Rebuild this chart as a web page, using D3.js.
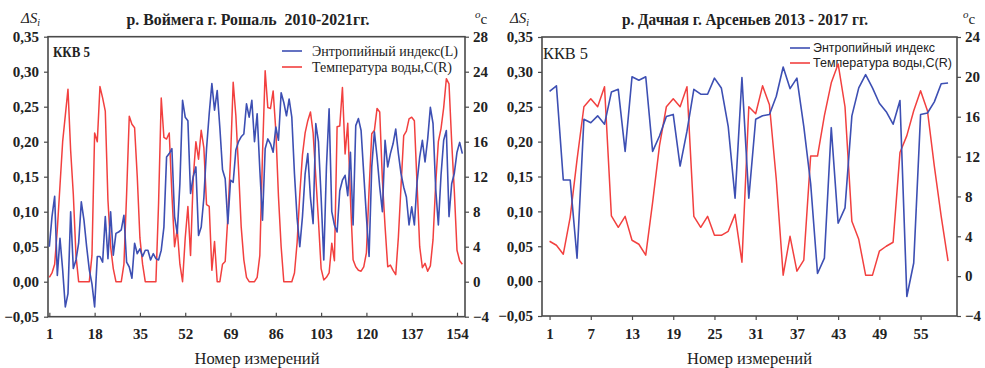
<!DOCTYPE html>
<html>
<head>
<meta charset="utf-8">
<script src="https://cdn.jsdelivr.net/npm/d3@7"></script>
<style>
  html, body { margin: 0; padding: 0; background: #fff; }
  svg { display: block; }
  text { fill: #222; white-space: pre; }
</style>
</head>
<body>
<svg id="chart" width="985" height="368"></svg>
<script>
// ---- Panel A: р. Воймега, 2010-2021 ----
const voimegaEntropy = [
  0.050, 0.093, 0.122, 0.009, 0.062, 0.017, -0.036, -0.017, 0.100, 0.019,
  0.031, 0.055, 0.114, 0.088, 0.050, 0.017, -0.003, -0.036, 0.036, 0.036,
  0.028, 0.093, 0.033, 0.100, 0.038, 0.069, 0.071, 0.074, 0.095, 0.028,
  0.021, 0.005, 0.055, 0.040, 0.047, 0.036, 0.045, 0.045, 0.031, 0.040,
  0.033, 0.031, 0.045, 0.078, 0.178, 0.183, 0.190, 0.093, 0.069, 0.140,
  0.259, 0.235, 0.230, 0.126, 0.150, 0.164, 0.066, 0.078, 0.120, 0.190,
  0.240, 0.283, 0.245, 0.273, 0.220, 0.160, 0.147, 0.083, 0.145, 0.142,
  0.188, 0.200, 0.207, 0.211, 0.254, 0.235, 0.259, 0.200, 0.240, 0.160,
  0.088, 0.190, 0.204, 0.197, 0.185, 0.221, 0.202, 0.270, 0.256, 0.237,
  0.261, 0.235, 0.154, 0.090, 0.050, 0.093, 0.154, 0.183, 0.120, 0.083,
  0.226, 0.200, 0.121, 0.031, 0.164, 0.247, 0.100, 0.081, 0.071, 0.130,
  0.145, 0.152, 0.123, 0.185, 0.081, 0.223, 0.233, 0.216, 0.154, 0.093,
  0.036, 0.164, 0.214, 0.178, 0.135, 0.100, 0.202, 0.164, 0.183, 0.197,
  0.218, 0.183, 0.154, 0.135, 0.121, 0.081, 0.107, 0.081, 0.142, 0.178,
  0.202, 0.171, 0.204, 0.249, 0.226, 0.133, 0.081, 0.152, 0.202, 0.216,
  0.093, 0.140, 0.155, 0.185, 0.199, 0.183
];
const voimegaTemp = [
  0.5, 1, 2, 6, 11, 16, 19, 22, 15, 10,
  3, 0, 0, 0, 0, 0, 3, 17, 16, 22.3,
  21, 19.5, 9.3, 4, 1.5, 0, 0, 0, 2, 10,
  18.9, 18, 17.6, 12, 5, 2, 0, 0, 0, 0,
  0, 9, 21, 16.5, 16.3, 17, 10, 4, 6, 2,
  0, 5, 8.6, 3, 11.8, 16, 14, 17.3, 15.3, 8.8,
  8.6, 1.3, 4.6, 0, 0, 2, 2.3, 7.4, 14, 22.8,
  19, 13, 6.3, 2.5, 0.5, 0, 0, 0, 0.5, 3,
  14.5, 24.1, 19.9, 19.8, 21.8, 17.3, 9.7, 4, 0, 0,
  0, 0, 1, 4.5, 10, 14.5, 17, 18.4, 19.4, 17,
  12, 7, 1.5, 0.2, 0.5, 1, 4.4, 2.4, 17.7, 17.8,
  22.2, 14.6, 18.1, 9.5, 2.5, 1.7, 1.3, 1.2, 1.7, 3.3,
  10.5, 16.9, 17.3, 19.8, 19.4, 11.6, 6.3, 1.7, 1.9, 1.3,
  0.8, 5.1, 11, 16.7, 17.2, 18.6, 18.8, 18.4, 11.2, 4,
  1.6, 2.1, 1.2, 1.8, 4.8, 11.2, 16, 17.5, 19.9, 23.2,
  22.6, 16, 10.3, 3.6, 2.4, 2
];
const voimegaTicks = [1, 18, 35, 52, 69, 86, 103, 120, 137, 154];
const voimegaTempTicks = [-4, 0, 4, 8, 12, 16, 20, 24, 28];

// ---- Panel B: р. Дачная, 2013-2017 ----
const dachnayaEntropy = [
  0.272, 0.280, 0.145, 0.145, 0.033, 0.232, 0.227, 0.237, 0.225, 0.271,
  0.275, 0.186, 0.293, 0.288, 0.293, 0.186, 0.208, 0.236, 0.239, 0.165,
  0.215, 0.275, 0.268, 0.268, 0.291, 0.277, 0.222, 0.119, 0.292, 0.119,
  0.232, 0.237, 0.239, 0.265, 0.307, 0.276, 0.291, 0.222, 0.140, 0.011,
  0.033, 0.220, 0.083, 0.105, 0.237, 0.277, 0.296, 0.277, 0.255, 0.243,
  0.225, 0.259, -0.022, 0.026, 0.239, 0.241, 0.257, 0.283, 0.284
];
const dachnayaTemp = [
  3.5, 3.1, 2.2, 5.9, 11.7, 17, 17.8, 17, 19, 6.05,
  4.9, 6, 3.6, 3.2, 2.1, 7.4, 13.1, 17, 17.8, 17,
  19, 6, 4.9, 6, 4.1, 4.1, 4.5, 6.2, 1.4, 17,
  16.3, 19.1, 17.2, 9.7, 0.1, 4.0, 0.5, 1.6, 12.05, 12.05,
  16.1, 19.4, 21.3, 17.0, 5.5, 3.7, 0.1, 0.1, 2.5, 3.0,
  3.4, 12.4, 14.1, 16.6, 18.6, 16.6, 11.05, 6.0, 1.5
];
const dachnayaTicks = [1, 7, 13, 19, 25, 31, 37, 43, 49, 55];
const dachnayaTempTicks = [-4, 0, 4, 8, 12, 16, 20, 24];

// Shared left-axis ticks for the entropy index
const entropyTicks = [-0.05, 0, 0.05, 0.10, 0.15, 0.20, 0.25, 0.30, 0.35];

const BLUE = "#3d4fb3";
const RED = "#f2403f";
const FRAME = "#4a4a4a";
const SERIF = "'Liberation Serif', 'Times New Roman', serif";
const SANS = "'Liberation Sans', Arial, sans-serif";

const svg = d3.select("#chart");
const fmtComma = d => d3.format(".2f")(d).replace(".", ",");

// Squeeze or stretch a text horizontally to the given width, keeping its height.
function fitWidth(sel, width) {
  sel.attr("textLength", width).attr("lengthAdjust", "spacingAndGlyphs");
  return sel;
}

function drawPanel(p) {
  const g = svg.append("g");
  const x = d3.scaleLinear().domain(p.xDomain).range([p.left, p.right]);
  const yL = d3.scaleLinear().domain([-0.05, 0.35]).range([p.bottom, p.top]);
  const yR = d3.scaleLinear().domain(p.tempDomain).range([p.bottom, p.top]);

  // left axis
  const axL = d3.axisLeft(yL).tickValues(entropyTicks).tickSize(4).tickPadding(5).tickFormat(fmtComma);
  const gL = g.append("g").attr("transform", `translate(${p.left},0)`).call(axL);
  // right axis
  const axR = d3.axisRight(yR).tickValues(p.tempTicks).tickSize(4).tickPadding(4).tickFormat(d3.format("d"));
  const gR = g.append("g").attr("transform", `translate(${p.right},0)`).call(axR);
  // bottom axis
  const axB = d3.axisBottom(x).tickValues(p.xTicks).tickSize(p.xTickIn ? -4 : 4).tickPadding(p.xTickIn ? 12 : 8).tickFormat(d3.format("d"));
  const gB = g.append("g").attr("transform", `translate(0,${p.bottom})`).call(axB);

  [gL, gR, gB].forEach(ax => {
    ax.select(".domain").remove();
    ax.selectAll(".tick line").attr("stroke", FRAME).attr("stroke-width", 1.2);
    ax.selectAll(".tick text")
      .attr("fill", "#222")
      .style("font-family", SERIF)
      .style("font-size", "15px")
      .style("font-weight", "bold");
  });

  // frame
  g.append("rect")
    .attr("x", p.left).attr("y", p.top)
    .attr("width", p.right - p.left).attr("height", p.bottom - p.top)
    .attr("fill", "none").attr("stroke", FRAME).attr("stroke-width", 1.6);

  // title and axis captions
  const title = g.append("text").attr("x", p.titleX).attr("y", 25).attr("text-anchor", "middle")
    .style("font-family", SERIF).style("font-size", "16px").style("font-weight", "bold")
    .text(p.title);
  fitWidth(title, p.titleW);

  const ds = g.append("text").attr("x", p.dsX).attr("y", 23)
    .style("font-family", SERIF).style("font-size", "15px").style("font-style", "italic");
  ds.append("tspan").text("ΔS");
  ds.append("tspan").attr("dy", 3).style("font-size", "10px").text("i");

  const dc = g.append("text").attr("x", p.degX).attr("y", 18)
    .style("font-family", SERIF).style("font-style", "italic");
  dc.append("tspan").style("font-size", "11px").text("o");
  dc.append("tspan").attr("dy", 6).style("font-size", "15px").style("font-style", "normal").text("c");

  const xt = g.append("text").attr("x", p.xTitleX).attr("y", 364).attr("text-anchor", "middle")
    .style("font-family", SERIF).style("font-size", "17px")
    .text("Номер измерений");
  fitWidth(xt, 125);

  const kkv = g.append("text").attr("x", p.kkvX).attr("y", p.kkvY)
    .style("font-family", SERIF).style("font-size", p.kkvSize + "px").style("font-weight", p.kkvWeight)
    .text("ККВ 5");
  fitWidth(kkv, p.kkvW);

  // legend
  const lg = g.append("g");
  p.legend.forEach((item, k) => {
    const yy = p.legendY + k * p.legendGap;
    lg.append("line").attr("x1", p.legendX).attr("x2", p.legendX + 20)
      .attr("y1", yy).attr("y2", yy).attr("stroke", item.color).attr("stroke-width", 1.6);
    const t = lg.append("text").attr("x", p.legendX + p.legendTextDx).attr("y", yy).attr("dy", "0.33em")
      .style("font-family", p.legendFont).style("font-size", p.legendSize + "px")
      .text(item.label);
    fitWidth(t, item.width);
  });

  // series
  const lineT = d3.line().x((d, i) => x(i + 1)).y(d => yR(d));
  const lineS = d3.line().x((d, i) => x(i + 1)).y(d => yL(d));
  g.append("path").datum(p.temp).attr("d", lineT)
    .attr("fill", "none").attr("stroke", RED).attr("stroke-width", 1.5).attr("stroke-linejoin", "round");
  g.append("path").datum(p.entropy).attr("d", lineS)
    .attr("fill", "none").attr("stroke", BLUE).attr("stroke-width", 1.6).attr("stroke-linejoin", "round");
}

drawPanel({
  left: 48, right: 465, top: 36.7, bottom: 316.7,
  xDomain: [0.5, 157], xTicks: voimegaTicks, xTickIn: true,
  tempDomain: [-4, 28], tempTicks: voimegaTempTicks,
  entropy: voimegaEntropy, temp: voimegaTemp,
  title: "р. Воймега г. Рошаль  2010-2021гг.", titleX: 248, titleW: 243,
  dsX: 21, degX: 475, xTitleX: 257,
  kkvX: 53, kkvY: 57, kkvSize: 15, kkvW: 37, kkvWeight: "bold",
  legendX: 282, legendY: 51, legendGap: 16, legendTextDx: 30,
  legendFont: SERIF, legendSize: 15,
  legend: [
    { color: BLUE, label: "Энтропийный индекс(L)", width: 146 },
    { color: RED, label: "Температура воды,C(R)", width: 140 }
  ]
});

drawPanel({
  left: 542, right: 957, top: 37, bottom: 316,
  xDomain: [-0.1, 60.3], xTicks: dachnayaTicks, xTickIn: false,
  tempDomain: [-4, 24], tempTicks: dachnayaTempTicks,
  entropy: dachnayaEntropy, temp: dachnayaTemp,
  title: "р. Дачная г. Арсеньев 2013 - 2017 гг.", titleX: 745, titleW: 246,
  dsX: 510, degX: 963, xTitleX: 749.5,
  kkvX: 543, kkvY: 59, kkvSize: 17, kkvW: 45, kkvWeight: "normal",
  legendX: 790, legendY: 48, legendGap: 15, legendTextDx: 23,
  legendFont: SANS, legendSize: 13,
  legend: [
    { color: BLUE, label: "Энтропийный индекс", width: 122 },
    { color: RED, label: "Температура воды,C(R)", width: 139 }
  ]
});
</script>
</body>
</html>
